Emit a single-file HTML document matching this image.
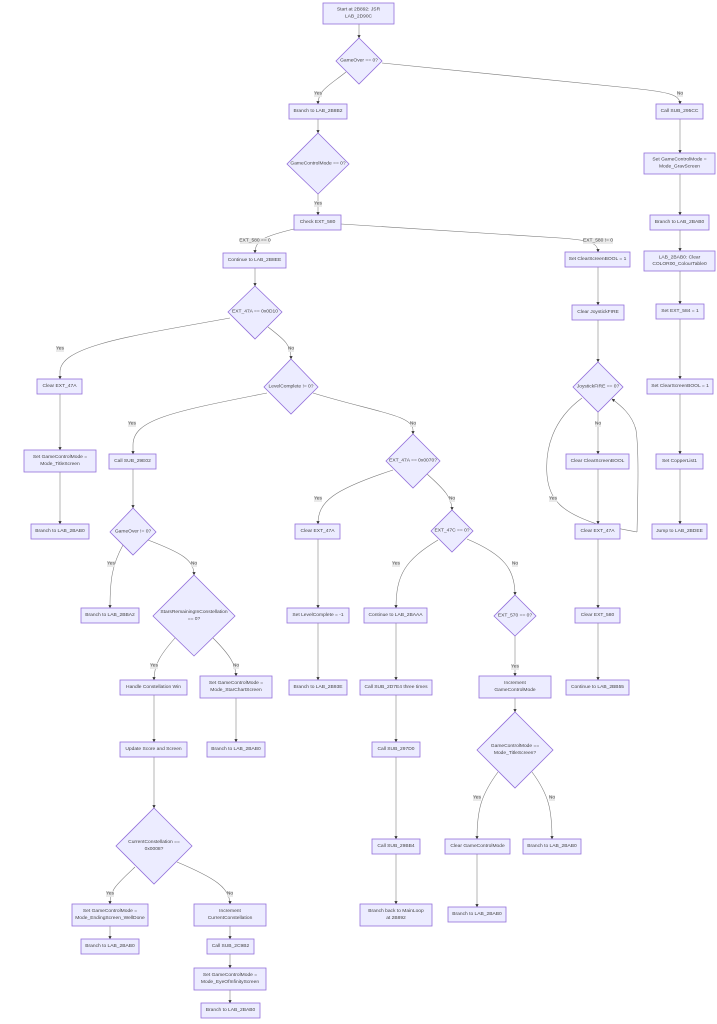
<!DOCTYPE html>
<html><head><meta charset="utf-8"><style>
html,body{margin:0;padding:0;background:#fff;}
svg{display:block;}
.n{fill:#ECECFF;stroke:#9370DB;stroke-width:0.8;}
.e{fill:none;stroke:#777;stroke-width:0.55;}
.t{font-family:"Liberation Sans",sans-serif;font-size:4.9px;fill:#444;text-anchor:middle;dominant-baseline:central;}
.lb{fill:#e8e8e8;opacity:0.9;}
</style></head><body>
<svg width="717" height="1024" viewBox="0 0 717 1024" xmlns="http://www.w3.org/2000/svg">
<defs><marker id="a" viewBox="0 0 10 10" refX="9" refY="5" markerUnits="userSpaceOnUse" markerWidth="3.2" markerHeight="3.2" orient="auto"><path d="M0,0L10,5L0,10z" fill="#333"/></marker></defs>

<!-- EDGES -->
<g class="e">
<path d="M582,398C552,420 545,450 547,475C549,500 562,513 600,525L637,532"/>
</g>
<g class="e" marker-end="url(#a)">
<path d="M359,24V38"/>
<path d="M346,72C330,85 318,90 318,104"/>
<path d="M382,63L630,88C670,92 680,95 680,104"/>
<path d="M318,119V133"/>
<path d="M318,194V215"/>
<path d="M294,229C265,236 255,240 255,253"/>
<path d="M341,224L560,238C590,240 598,243 598,252"/>
<path d="M680,119V153"/>
<path d="M680,174V215"/>
<path d="M680,230V251"/>
<path d="M680,271V304"/>
<path d="M680,319V379"/>
<path d="M680,394V454"/>
<path d="M680,469V524"/>
<path d="M598,267V305"/>
<path d="M598,320V362"/>
<path d="M598,412V454"/>
<path d="M637,532C638,490 639,450 636,430C632,414 620,405 612,399"/>
<path d="M598,469V524"/>
<path d="M598,539V608"/>
<path d="M598,623V680"/>
<path d="M255,268V286"/>
<path d="M230,318C130,336 60,346 60,372L60,379"/>
<path d="M268,327C285,340 291,345 291,359"/>
<path d="M60,394V450"/>
<path d="M60,472V524"/>
<path d="M267,393C170,412 133,420 133,445L133,454"/>
<path d="M313,393C375,412 413,415 413,430L413,434"/>
<path d="M133,469V508"/>
<path d="M123,545C112,565 110,580 110,608"/>
<path d="M148,540C182,553 194,560 194,575"/>
<path d="M175,638C160,655 154,665 154,680"/>
<path d="M213,638C230,655 236,665 236,676"/>
<path d="M154,695V742"/>
<path d="M236,698V742"/>
<path d="M154,757V808"/>
<path d="M135,867C116,885 110,890 110,904"/>
<path d="M177,862C215,878 230,888 230,904"/>
<path d="M110,926V939"/>
<path d="M230,926V939"/>
<path d="M230,954V968"/>
<path d="M230,990V1003"/>
<path d="M393,470C332,490 318,502 318,524"/>
<path d="M427,474C445,490 452,498 452,510"/>
<path d="M318,539V608"/>
<path d="M318,623V680"/>
<path d="M438,540C405,560 396,575 396,608"/>
<path d="M467,539C505,555 515,570 515,595"/>
<path d="M396,623V680"/>
<path d="M515,636V676"/>
<path d="M396,695V742"/>
<path d="M396,757V839"/>
<path d="M396,854V904"/>
<path d="M515,698V712"/>
<path d="M498,772C481,795 477,810 477,839"/>
<path d="M532,772C549,795 552,810 552,839"/>
<path d="M477,854V907"/>
</g>

<!-- EDGE LABELS -->
<g>
<rect class="lb" x="314" y="91" width="8" height="6"/><text class="t" x="318" y="94">Yes</text>
<rect class="lb" x="677" y="91" width="6" height="6"/><text class="t" x="680" y="94">No</text>
<rect class="lb" x="314" y="201" width="8" height="6"/><text class="t" x="318" y="204">Yes</text>
<rect class="lb" x="240" y="238" width="30" height="6"/><text class="t" x="255" y="241">EXT_580 == 0</text>
<rect class="lb" x="583" y="238" width="30" height="6"/><text class="t" x="598" y="241">EXT_580 != 0</text>
<rect class="lb" x="595" y="421" width="6" height="6"/><text class="t" x="598" y="424">No</text>
<rect class="lb" x="549" y="496" width="8" height="6"/><text class="t" x="553" y="499">Yes</text>
<rect class="lb" x="56" y="346" width="8" height="6"/><text class="t" x="60" y="349">Yes</text>
<rect class="lb" x="288" y="346" width="6" height="6"/><text class="t" x="291" y="349">No</text>
<rect class="lb" x="128" y="421" width="8" height="6"/><text class="t" x="132" y="424">Yes</text>
<rect class="lb" x="410" y="421" width="6" height="6"/><text class="t" x="413" y="424">No</text>
<rect class="lb" x="314" y="496" width="8" height="6"/><text class="t" x="318" y="499">Yes</text>
<rect class="lb" x="449" y="496" width="6" height="6"/><text class="t" x="452" y="499">No</text>
<rect class="lb" x="107" y="561" width="8" height="6"/><text class="t" x="111" y="564">Yes</text>
<rect class="lb" x="191" y="561" width="6" height="6"/><text class="t" x="194" y="564">No</text>
<rect class="lb" x="392" y="561" width="8" height="6"/><text class="t" x="396" y="564">Yes</text>
<rect class="lb" x="512" y="561" width="6" height="6"/><text class="t" x="515" y="564">No</text>
<rect class="lb" x="150" y="663" width="8" height="6"/><text class="t" x="154" y="666">Yes</text>
<rect class="lb" x="233" y="663" width="6" height="6"/><text class="t" x="236" y="666">No</text>
<rect class="lb" x="511" y="664" width="8" height="6"/><text class="t" x="515" y="667">Yes</text>
<rect class="lb" x="473" y="795" width="8" height="6"/><text class="t" x="477" y="798">Yes</text>
<rect class="lb" x="549" y="795" width="6" height="6"/><text class="t" x="552" y="798">No</text>
<rect class="lb" x="106" y="891" width="8" height="6"/><text class="t" x="110" y="894">Yes</text>
<rect class="lb" x="227" y="891" width="6" height="6"/><text class="t" x="230" y="894">No</text>
</g>

<!-- DIAMONDS -->
<g>
<polygon class="n" points="359,38 382,61 359,84 336,61"/><text class="t" x="359" y="61">GameOver == 0?</text>
<polygon class="n" points="318,133 349,164 318,194 287,164"/><text class="t" x="318" y="164">GameControlMode == 0?</text>
<polygon class="n" points="255,286 282,312 255,339 228,312"/><text class="t" x="255" y="312">EXT_47A == 0x0D10</text>
<polygon class="n" points="291,359 318,387 291,414 264,387"/><text class="t" x="291" y="387">LevelComplete != 0?</text>
<polygon class="n" points="133,508 156,532 133,555 110,532"/><text class="t" x="133" y="532">GameOver != 0?</text>
<polygon class="n" points="194,575 235,616 194,656 153,616"/><text class="t" x="194" y="612.7">StarsRemainingInConstellation</text><text class="t" x="194" y="619.4">== 0?</text>
<polygon class="n" points="154,808 192,846 154,884 116,846"/><text class="t" x="154" y="842.7">CurrentConstellation ==</text><text class="t" x="154" y="849.4">0x0008?</text>
<polygon class="n" points="413,434 440,461 413,488 386,461"/><text class="t" x="413" y="461">EXT_47A == 0x0070?</text>
<polygon class="n" points="452,510 473,531 452,552 431,531"/><text class="t" x="452" y="531">EXT_47C == 0?</text>
<polygon class="n" points="515,595 536,616 515,636 494,616"/><text class="t" x="515" y="616">EXT_570 == 0?</text>
<polygon class="n" points="515,712 553,750 515,788 477,750"/><text class="t" x="515" y="746.7">GameControlMode ==</text><text class="t" x="515" y="753.4">Mode_TitleScreen?</text>
<polygon class="n" points="598,362 623,387 598,412 573,387"/><text class="t" x="598" y="387">JoystickFIRE == 0?</text>
</g>

<!-- BOXES -->
<g>
<rect class="n" x="323" y="3" width="71" height="21"/><text class="t" x="358.5" y="10.2">Start at 2B892: JSR</text><text class="t" x="358.5" y="16.9">LAB_2D90C</text>
<rect class="n" x="289" y="104" width="58" height="15"/><text class="t" x="318" y="111.5">Branch to LAB_2B8B2</text>
<rect class="n" x="294" y="215" width="47" height="15"/><text class="t" x="317.5" y="222.5">Check EXT_580</text>
<rect class="n" x="656" y="104" width="47" height="15"/><text class="t" x="679.5" y="111.5">Call SUB_295CC</text>
<rect class="n" x="644" y="153" width="71" height="21"/><text class="t" x="679.5" y="160.2">Set GameControlMode =</text><text class="t" x="679.5" y="166.9">Mode_GravScreen</text>
<rect class="n" x="650" y="215" width="59" height="15"/><text class="t" x="679.5" y="222.5">Branch to LAB_2BAB0</text>
<rect class="n" x="644" y="251" width="71" height="20"/><text class="t" x="679.5" y="257.8">LAB_2BAB0: Clear</text><text class="t" x="679.5" y="264.5">COLOR00_ColourTable0</text>
<rect class="n" x="656" y="304" width="48" height="15"/><text class="t" x="680" y="311.5">Set EXT_584 = 1</text>
<rect class="n" x="647" y="379" width="66" height="15"/><text class="t" x="680" y="386.5">Set ClearScreenBOOL = 1</text>
<rect class="n" x="656" y="454" width="47" height="15"/><text class="t" x="679.5" y="461.5">Set CopperList1</text>
<rect class="n" x="652" y="524" width="55" height="15"/><text class="t" x="679.5" y="531.5">Jump to LAB_2BDEE</text>
<rect class="n" x="565" y="252" width="65" height="15"/><text class="t" x="597.5" y="259.5">Set ClearScreenBOOL = 1</text>
<rect class="n" x="572" y="305" width="52" height="15"/><text class="t" x="598" y="312.5">Clear JoystickFIRE</text>
<rect class="n" x="566" y="454" width="63" height="15"/><text class="t" x="597.5" y="461.5">Clear ClearScreenBOOL</text>
<rect class="n" x="575" y="524" width="45" height="15"/><text class="t" x="597.5" y="531.5">Clear EXT_47A</text>
<rect class="n" x="575" y="608" width="45" height="15"/><text class="t" x="597.5" y="615.5">Clear EXT_580</text>
<rect class="n" x="566" y="680" width="63" height="15"/><text class="t" x="597.5" y="687.5">Continue to LAB_2BB55</text>
<rect class="n" x="223" y="253" width="63" height="15"/><text class="t" x="254.5" y="260.5">Continue to LAB_2B8EE</text>
<rect class="n" x="37" y="379" width="45" height="15"/><text class="t" x="59.5" y="386.5">Clear EXT_47A</text>
<rect class="n" x="24" y="450" width="72" height="22"/><text class="t" x="60" y="457.6">Set GameControlMode =</text><text class="t" x="60" y="464.3">Mode_TitleScreen</text>
<rect class="n" x="31" y="524" width="58" height="15"/><text class="t" x="60" y="531.5">Branch to LAB_2BAB0</text>
<rect class="n" x="109" y="454" width="47" height="15"/><text class="t" x="132.5" y="461.5">Call SUB_29E02</text>
<rect class="n" x="81" y="608" width="58" height="15"/><text class="t" x="110" y="615.5">Branch to LAB_2BBA2</text>
<rect class="n" x="120" y="680" width="67" height="15"/><text class="t" x="153.5" y="687.5">Handle Constellation Win</text>
<rect class="n" x="200" y="676" width="72" height="22"/><text class="t" x="236" y="683.6">Set GameControlMode =</text><text class="t" x="236" y="690.3">Mode_StarChartScreen</text>
<rect class="n" x="120" y="742" width="67" height="15"/><text class="t" x="153.5" y="749.5">Update Score and Screen</text>
<rect class="n" x="207" y="742" width="58" height="15"/><text class="t" x="236" y="749.5">Branch to LAB_2BAB0</text>
<rect class="n" x="72" y="904" width="76" height="22"/><text class="t" x="110" y="911.6">Set GameControlMode =</text><text class="t" x="110" y="918.3">Mode_EndingScreen_WellDone</text>
<rect class="n" x="194" y="904" width="72" height="22"/><text class="t" x="230" y="911.6">Increment</text><text class="t" x="230" y="918.3">CurrentConstellation</text>
<rect class="n" x="81" y="939" width="58" height="15"/><text class="t" x="110" y="946.5">Branch to LAB_2BAB0</text>
<rect class="n" x="207" y="939" width="47" height="15"/><text class="t" x="230.5" y="946.5">Call SUB_2C9B2</text>
<rect class="n" x="194" y="968" width="72" height="22"/><text class="t" x="230" y="975.6">Set GameControlMode =</text><text class="t" x="230" y="982.3">Mode_EyeOfInfinityScreen</text>
<rect class="n" x="201" y="1003" width="59" height="15"/><text class="t" x="230.5" y="1010.5">Branch to LAB_2BAB0</text>
<rect class="n" x="295" y="524" width="45" height="15"/><text class="t" x="317.5" y="531.5">Clear EXT_47A</text>
<rect class="n" x="287" y="608" width="62" height="15"/><text class="t" x="318" y="615.5">Set LevelComplete = -1</text>
<rect class="n" x="289" y="680" width="58" height="15"/><text class="t" x="318" y="687.5">Branch to LAB_2B93E</text>
<rect class="n" x="364" y="608" width="63" height="15"/><text class="t" x="395.5" y="615.5">Continue to LAB_2BAAA</text>
<rect class="n" x="360" y="680" width="72" height="15"/><text class="t" x="396" y="687.5">Call SUB_2D7E4 three times</text>
<rect class="n" x="372" y="742" width="48" height="15"/><text class="t" x="396" y="749.5">Call SUB_297D0</text>
<rect class="n" x="372" y="839" width="48" height="15"/><text class="t" x="396" y="846.5">Call SUB_29BB4</text>
<rect class="n" x="360" y="904" width="72" height="22"/><text class="t" x="396" y="911.6">Branch back to MainLoop</text><text class="t" x="396" y="918.3">at 2B892</text>
<rect class="n" x="479" y="676" width="72" height="22"/><text class="t" x="515" y="683.6">Increment</text><text class="t" x="515" y="690.3">GameControlMode</text>
<rect class="n" x="445" y="839" width="65" height="15"/><text class="t" x="477.5" y="846.5">Clear GameControlMode</text>
<rect class="n" x="523" y="839" width="58" height="15"/><text class="t" x="552" y="846.5">Branch to LAB_2BAB0</text>
<rect class="n" x="448" y="907" width="58" height="15"/><text class="t" x="477" y="914.5">Branch to LAB_2BAB0</text>
</g>
</svg>
</body></html>
